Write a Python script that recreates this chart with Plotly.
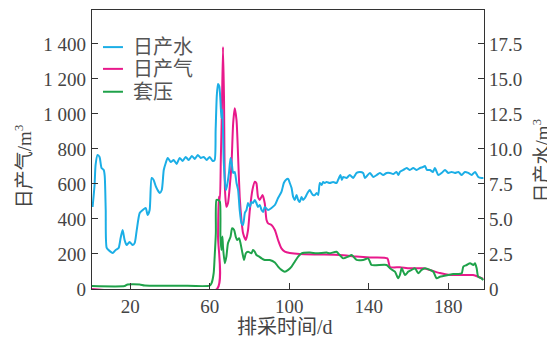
import plotly.graph_objects as go

# ---- data ----
water_days = [1.1, 2.1, 2.6, 3.6, 4.6, 5.6, 6.7, 7.2, 7.7, 8.2, 9.7, 11.2, 12.7, 14.2, 15.2, 16.2, 17.2, 18.2,
              19.7, 21.3, 22.3, 23.3, 24.8, 26.3, 27.8, 28.8, 29.8, 30.8, 31.8, 32.8, 33.8, 34.9, 35.9, 36.9,
              37.9, 38.9, 40.4, 41.9, 43.4, 44.9, 46.4, 47.9, 49.5, 51.0, 52.5, 54.0, 55.5, 57.0, 58.5, 60.0,
              61.5, 62.5, 63.0, 63.6, 64.2, 64.8, 65.4, 65.9, 66.4, 67.1, 68.1, 68.7, 69.7, 70.5, 71.1, 71.8,
              72.6, 73.5, 74.3, 75.1, 76.0, 76.8, 77.7, 78.5, 79.3, 80.2, 81.0, 81.8, 82.7, 83.5, 84.3, 85.2,
              86.1, 86.9, 87.7, 89.4, 91.1, 92.8, 94.4, 96.1, 97.3, 98.3, 99.5, 100.3, 101.2, 102.0, 102.8,
              103.7, 104.5, 105.3, 106.2, 107.0, 107.9, 108.7, 109.5, 110.4, 111.2, 112.0, 112.9, 113.8, 114.6,
              115.4, 116.3, 117.1, 117.9, 118.8, 120.4, 122.1, 123.8, 124.6, 125.8, 126.5, 127.2, 128.9, 130.5,
              132.2, 133.9, 135.6, 137.2, 138.1, 139.1, 140.6, 142.3, 144.0, 145.6, 147.3, 149.0, 150.7, 152.3,
              154.0, 154.9, 155.7, 157.4, 159.1, 160.7, 162.4, 164.1, 165.8, 167.3, 168.3, 169.3, 170.8, 172.3,
              173.3, 175.0, 176.7, 178.4, 180.0, 181.7, 183.4, 185.1, 186.8, 188.4, 190.1, 191.8, 193.5, 195.1,
              196.8, 197.7]
water = [5.86, 7.43, 8.86, 9.57, 9.43, 8.64, 8.50, 8.07, 5.64, 2.93, 2.71, 2.57, 2.79, 2.93, 3.64, 4.21, 3.50, 3.14,
         3.36, 3.14, 3.29, 4.21, 5.43, 5.64, 5.79, 5.29, 5.64, 7.93, 7.79, 7.36, 7.07, 6.86, 7.07, 8.50,
         9.00, 9.36, 9.07, 9.21, 8.93, 9.36, 9.14, 9.43, 9.21, 9.50, 9.29, 9.57, 9.36, 9.43, 9.21, 9.43,
         9.14, 9.21, 11.36, 13.86, 14.64, 14.50, 13.50, 12.21, 12.79, 9.00, 7.07, 7.36, 8.29, 9.36, 9.00, 8.29,
         8.36, 7.57, 7.07, 5.64, 4.71, 4.57, 5.43, 5.64, 6.14, 5.86, 6.21, 6.14, 6.36, 6.14, 5.86, 6.00,
         5.64, 5.50, 5.86, 5.64, 5.79, 6.00, 6.50, 6.93, 7.57, 7.79, 7.86, 7.57, 7.21, 6.57, 6.36,
         6.71, 6.36, 6.21, 6.57, 6.36, 6.50, 6.71, 6.93, 7.07, 6.86, 6.71, 6.71, 6.86, 6.71,
         7.57, 7.43, 7.64, 7.57, 7.64, 7.57, 7.64, 7.57, 7.79, 8.14, 7.79, 8.00, 7.93, 8.14,
         7.93, 8.29, 8.36, 8.29, 7.93, 8.07, 8.29, 8.00, 8.14, 8.29, 8.14, 8.29, 8.29, 8.21,
         8.36, 8.14, 8.36, 8.50, 8.64, 8.50, 8.64, 8.50, 8.64, 8.71, 8.79, 8.50, 8.50, 8.36,
         8.64, 8.14, 8.29, 8.50, 8.29, 8.36, 8.29, 8.36, 8.14, 8.36, 8.29, 8.14, 8.36, 8.00,
         7.93, 7.93]

gas_days = [0.8, 63.7, 64.2, 64.6, 65.1, 65.6, 66.1, 66.7, 67.2, 67.7, 68.4, 69.2, 70.1, 71.0, 71.8, 72.6, 73.5,
            74.3, 75.1, 76.0, 76.8, 78.2, 79.3, 80.2, 81.5, 82.7, 83.5, 84.3, 85.2, 86.6, 87.7, 88.6, 89.4,
            91.1, 92.8, 94.4, 96.1, 97.8, 100.3, 105.3, 115.4, 125.4, 133.9, 140.6, 149.4, 150.7, 155.7,
            160.7, 167.3, 170.8, 175.8, 180.8, 188.4, 192.5, 195.1, 197.6]
gas = [0, 0, 300, 527, 509, 737, 1000, 1383, 1100, 566, 470, 490, 585, 718, 945, 1032, 965,
       756, 527, 394, 318, 280, 337, 451, 566, 613, 604, 527, 509, 537, 490, 394, 375,
       366, 337, 280, 232, 213, 206, 200, 197, 194, 185, 180, 175, 126, 124,
       118, 118, 109, 91, 80, 80, 80, 70, 57]

pres_days = [0.8, 17.2, 18.7, 24.8, 27.3, 44.9, 60.0, 60.9, 62.0, 62.5, 63.1, 63.4, 64.1, 65.1, 65.4, 65.9, 66.4,
             66.7, 67.6, 68.4, 69.2, 70.5, 71.3, 72.3, 73.1, 73.8, 74.8, 75.5, 76.5, 77.3, 78.2, 79.3, 81.0,
             81.8, 82.7, 83.5, 84.9, 86.1, 87.7, 90.2, 92.8, 94.4, 96.1, 97.8, 99.5, 101.2, 102.8, 104.5,
             106.2, 110.4, 113.8, 118.8, 120.4, 123.8, 125.4, 127.2, 129.7, 131.4, 133.9, 137.2, 139.7, 140.6,
             141.4, 149.0, 150.7, 153.2, 154.8, 155.7, 156.6, 158.3, 159.9, 161.6, 163.3, 164.9, 166.6, 168.3,
             170.8, 172.5, 174.2, 175.8, 177.5, 180.0, 182.5, 185.1, 186.8, 187.6, 189.3, 191.0, 192.6, 193.5,
             194.3, 195.1, 196.8, 197.6]
pres = [17, 17, 26, 26, 20, 19, 19, 32, 90, 183, 320, 509, 509, 500, 300, 223, 300,
        240, 147, 185, 262, 299, 347, 337, 299, 280, 290, 262, 204, 166, 204, 213, 204,
        223, 213, 194, 185, 175, 166, 166, 152, 128, 109, 99, 109, 128, 156, 185,
        204, 208, 204, 208, 204, 213, 194, 175, 185, 194, 166, 166, 175, 156,
        137, 137, 118, 99, 61, 80, 118, 80, 99, 109, 118, 90, 109, 118,
        109, 99, 61, 70, 74, 80, 86, 86, 90, 128, 137, 147, 137, 147,
        118, 70, 61, 51]

x_ticks = [20, 60, 100, 140, 180]
left_ticks = [0, 200, 400, 600, 800, 1000, 1200, 1400]
left_labels = ["0", "200", "400", "600", "800", "1 000", "1 200", "1 400"]
right_ticks = [0, 2.5, 5.0, 7.5, 10.0, 12.5, 15.0, 17.5]
right_labels = ["0", "2.5", "5.0", "7.5", "10.0", "12.5", "15.0", "17.5"]

series_names = ["日产水", "日产气", "套压"]
series_colors = ["#1BAEE6", "#E8198B", "#1FA24A"]
x_title = "排采时间/d"
left_title = "日产气/m<sup>3</sup>"
right_title = "日产水/m<sup>3</sup>"

FONT = "'Liberation Serif', 'Times New Roman', 'Noto Sans CJK SC', serif"
AX = "#333333"
TXT = "#444444"

fig = go.Figure()
fig.add_trace(go.Scatter(x=water_days, y=water, name=series_names[0], yaxis="y2", mode="lines",
                         line=dict(color=series_colors[0], width=2, shape="spline", smoothing=0.6)))
fig.add_trace(go.Scatter(x=gas_days, y=gas, name=series_names[1], mode="lines",
                         line=dict(color=series_colors[1], width=2, shape="spline", smoothing=0.6)))
fig.add_trace(go.Scatter(x=pres_days, y=pres, name=series_names[2], mode="lines",
                         line=dict(color=series_colors[2], width=2, shape="spline", smoothing=0.6)))

# manual legend (compact, as in the reference)
leg_rows = [0.867, 0.789, 0.707]
shapes = []
annots = []
for name, col, yy in zip(series_names, series_colors, leg_rows):
    shapes.append(dict(type="line", xref="paper", yref="paper", x0=0.028, x1=0.079, y0=yy, y1=yy,
                       line=dict(color=col, width=2)))
    annots.append(dict(xref="paper", yref="paper", x=0.1, y=yy, xanchor="left", yanchor="middle",
                       text=name, showarrow=False, font=dict(size=20, color="#555555")))

# axis titles
annots.append(dict(xref="paper", yref="paper", x=0.492, y=-0.136, xanchor="center", yanchor="middle",
                   text=x_title, showarrow=False, font=dict(size=20, color=TXT)))
annots.append(dict(xref="paper", yref="paper", x=-0.176, y=0.44, xanchor="center", yanchor="middle",
                   text=left_title, textangle=-90, showarrow=False, font=dict(size=19, color=TXT)))
annots.append(dict(xref="paper", yref="paper", x=1.145, y=0.46, xanchor="center", yanchor="middle",
                   text=right_title, textangle=-90, showarrow=False, font=dict(size=19, color=TXT)))

# the page body adds an 8px offset, so the figure is 8px smaller and margins shifted
fig.update_layout(
    width=547, height=330,
    margin=dict(l=84, r=71, t=2, b=49),
    paper_bgcolor="white", plot_bgcolor="white",
    font=dict(family=FONT, size=19, color=TXT),
    showlegend=False,
    shapes=shapes, annotations=annots,
    xaxis=dict(range=[0.8, 198], tickvals=x_ticks, ticks="inside", ticklen=6, tickcolor=AX,
               showline=True, linecolor=AX, linewidth=1.3, mirror=True, showgrid=False, zeroline=False,
               automargin=False, tickfont=dict(size=19, color=TXT)),
    yaxis=dict(range=[0, 1594], tickvals=left_ticks, ticktext=left_labels, ticks="inside", ticklen=6,
               tickcolor=AX, showline=True, linecolor=AX, linewidth=1.3, showgrid=False, zeroline=False,
               automargin=False, ticklabelstandoff=1, tickfont=dict(size=19, color=TXT)),
    yaxis2=dict(range=[0, 19.925], tickvals=right_ticks, ticktext=right_labels, ticks="inside", ticklen=6,
                tickcolor=AX, showline=True, linecolor=AX, linewidth=1.3, showgrid=False, zeroline=False,
                overlaying="y", side="right", automargin=False, tickfont=dict(size=19, color=TXT)),
)

fig.write_html("out.html")
